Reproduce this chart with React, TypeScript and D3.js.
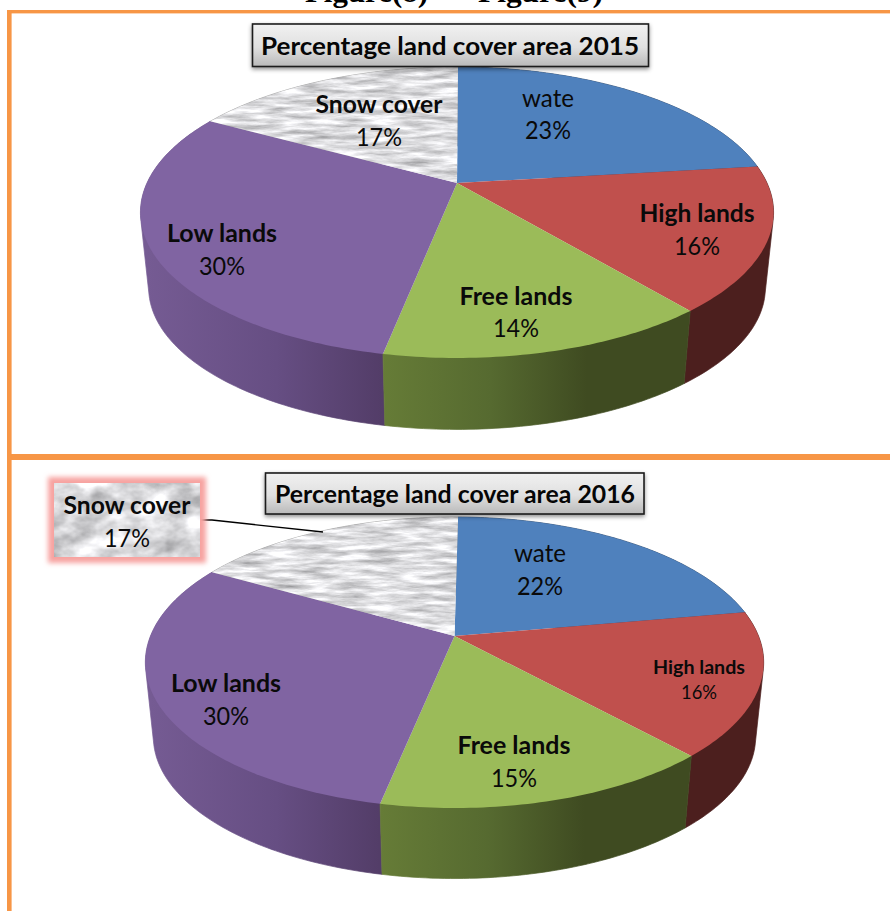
import React from "react";
import * as d3 from "d3";

// Land cover shares per category, in percent
const categories = ["wate", "High lands", "Free lands", "Low lands", "Snow cover"];
const values2015 = [23, 16, 14, 30, 17];
const values2016 = [22, 16, 15, 30, 17];
const titles = ["Percentage land cover area 2015", "Percentage land cover area 2016"];
const headings = ["Figure(8)", "Figure(9)"];

const topColors = ["#4f81bd", "#c0504d", "#9bbb59", "#8064a2", "url(#marble)"];
const boldLabel = [false, true, true, true, true];

type Geometry = {
  cx: number; apexY: number; rx: number; ry: number; tilt: number;
  baseScale: number; baseY: number; firstSlice: number;
};

// Tilted disc: a unit circle under a perspective map, so the apex sits above the rim's centre
const geometry2015: Geometry = { cx: 457, apexY: 183, rx: 310, ry: 139.5, tilt: -0.2027, baseScale: 0.974, baseY: 259, firstSlice: 0.004 };
const geometry2016: Geometry = { cx: 454.5, apexY: 636, rx: 304, ry: 140.7, tilt: -0.182, baseScale: 0.974, baseY: 711, firstSlice: 0.014 };

// Text placement: [centre x, name baseline, percent baseline, name width, percent width]
const labelLayout2015 = [
  [548, 107, 139, 52, 46],
  [697, 222, 255, 115, 46],
  [516, 305, 337, 113, 46],
  [222, 242, 275, 110, 46],
  [379, 113, 146, 127, 46],
];
const labelLayout2016 = [
  [540, 562, 595, 52, 46],
  [699, 674, 699, 92, 36],
  [514, 754, 787, 113, 46],
  [226, 692, 725, 110, 46],
  [127, 514, 547, 127, 46],
];

const FONT = "Lato, Carlito, Calibri, sans-serif";

function rimPoint(g: Geometry, theta: number, base: boolean): [number, number] {
  const u = Math.sin(theta);
  const v = -Math.cos(theta);
  const w = 1 + g.tilt * v;
  const s = base ? g.baseScale : 1;
  const y0 = base ? g.baseY : g.apexY;
  return [g.cx + (s * g.rx * u) / w, y0 + (s * g.ry * v) / w];
}

function rimSamples(g: Geometry, a0: number, a1: number, base: boolean) {
  const n = Math.max(2, Math.ceil(((a1 - a0) * 180) / Math.PI));
  return d3.range(n + 1).map((i) => rimPoint(g, a0 + ((a1 - a0) * i) / n, base));
}

const pathLine = d3.line<[number, number]>().curve(d3.curveLinear);

function Pie3D({ id, g, values, layout }: {
  id: string; g: Geometry; values: number[]; layout: number[][];
}) {
  const arcs = d3.pie<number>().sort(null).value((d) => d)
    .startAngle(g.firstSlice).endAngle(g.firstSlice + 2 * Math.PI)(values);
  const shadeFor = ["#2c4a70", "#4c1f1e", `url(#wall-green-${id})`, `url(#wall-purple-${id})`, "#9a9a9a"];
  const left = g.cx - g.rx;
  // Walls are painted back to front so the nearer slices overlap their neighbours
  const wallOrder = [4, 0, 1, 3, 2];
  return (
    <g>
      <defs>
        <linearGradient id={`wall-green-${id}`} gradientUnits="userSpaceOnUse" x1={g.cx - 75} x2={g.cx + 235} y1="0" y2="0">
          <stop offset="0" stopColor="#667c37" />
          <stop offset="0.35" stopColor="#566a30" />
          <stop offset="0.66" stopColor="#3f4b21" />
          <stop offset="1" stopColor="#3f4b21" />
        </linearGradient>
        <linearGradient id={`wall-purple-${id}`} gradientUnits="userSpaceOnUse" x1={left} x2={g.cx - 75} y1="0" y2="0">
          <stop offset="0" stopColor="#755b93" />
          <stop offset="0.55" stopColor="#664e83" />
          <stop offset="1" stopColor="#533d68" />
        </linearGradient>
      </defs>
      {wallOrder.map((i) => {
        const a = arcs[i];
        const pts = [...rimSamples(g, a.startAngle, a.endAngle, false), ...rimSamples(g, a.startAngle, a.endAngle, true)];
        const hull = d3.polygonHull(pts) as [number, number][];
        return <path key={`w${i}`} d={`${pathLine(hull)}Z`} fill={shadeFor[i]} stroke={shadeFor[i]} strokeWidth={0.7} />;
      })}
      {arcs.map((a, i) => {
        const pts = rimSamples(g, a.startAngle, a.endAngle, false);
        const apex: [number, number] = [g.cx, g.apexY];
        return <path key={`t${i}`} d={`${pathLine([apex, ...pts])}Z`} fill={topColors[i]} />;
      })}
      {arcs.map((_, i) => {
        if (id === "b" && i === 4) return null;
        return <PieLabel key={`l${i}`} index={i} values={values} row={layout[i]} />;
      })}
    </g>
  );
}

function PieLabel({ index, values, row }: { index: number; values: number[]; row: number[] }) {
  const [x, yName, yPct, wName, wPct] = row;
  const size = wPct < 40 ? 19 : 25;
  return (
    <g fontFamily={FONT} fill="#0a0a0a" textAnchor="middle">
      <text x={x} y={yName} fontSize={size} fontWeight={boldLabel[index] ? 700 : 400}
        textLength={wName} lengthAdjust="spacingAndGlyphs">{categories[index]}</text>
      <text x={x} y={yPct} fontSize={size} fontWeight={400}
        textLength={wPct} lengthAdjust="spacingAndGlyphs">{`${values[index]}%`}</text>
    </g>
  );
}

function TitleBox({ x, y, w, h, textX, textW, baseline, size, text }: {
  x: number; y: number; w: number; h: number; textX: number; textW: number;
  baseline: number; size: number; text: string;
}) {
  return (
    <g>
      <rect x={x} y={y} width={w} height={h} fill="url(#titleFill)" stroke="#1c1c1c" strokeWidth={1.6} filter="url(#softShadow)" />
      <text x={textX} y={baseline} fontFamily={FONT} fontWeight={700} fontSize={size} fill="#060606" textAnchor="middle"
        textLength={textW} lengthAdjust="spacingAndGlyphs">{text}</text>
    </g>
  );
}

export default function App() {
  const frame = "#f79646";
  return (
    <svg width={890} height={911} viewBox="0 0 890 911"
      style={{ position: "absolute", left: 0, top: 0, display: "block", background: "#fff" }}>
      <defs>
        {/* Grey veined stone used for the snow slice */}
        <filter id="marbleNoise" x="0" y="0" width="100%" height="100%" colorInterpolationFilters="sRGB">
          <feTurbulence type="fractalNoise" baseFrequency="0.03 0.2" numOctaves={5} seed={7} />
          <feColorMatrix type="matrix" values="0.6 0 0 0 0.57  0.6 0 0 0 0.57  0.6 0 0 0 0.58  0 0 0 0 1" />
        </filter>
        <filter id="calloutNoise" x="0" y="0" width="100%" height="100%" colorInterpolationFilters="sRGB">
          <feTurbulence type="fractalNoise" baseFrequency="0.03 0.045" numOctaves={4} seed={11} />
          <feColorMatrix type="matrix" values="0.7 0 0 0 0.5  0.7 0 0 0 0.5  0.7 0 0 0 0.51  0 0 0 0 1" />
        </filter>
        <pattern id="marble" patternUnits="userSpaceOnUse" x="0" y="0" width="890" height="911">
          <rect width="890" height="911" filter="url(#marbleNoise)" />
        </pattern>
        <linearGradient id="titleFill" x1="0" x2="0" y1="0" y2="1">
          <stop offset="0" stopColor="#f1f1f1" />
          <stop offset="0.55" stopColor="#e0e0e0" />
          <stop offset="1" stopColor="#b9b9b9" />
        </linearGradient>
        <filter id="softShadow" x="-5%" y="-20%" width="110%" height="150%">
          <feDropShadow dx="0" dy="2" stdDeviation="2" floodColor="#000" floodOpacity="0.45" />
        </filter>
        <filter id="pinkGlow" x="-20%" y="-30%" width="140%" height="160%">
          <feGaussianBlur stdDeviation="2.6" />
        </filter>
      </defs>

      {headings.map((h, i) => (
        <text key={h} x={[366.5, 540.5][i]} y={2} fontFamily="'Liberation Serif', 'Times New Roman', serif"
          fontWeight={700} fontSize={30} textAnchor="middle" fill="#000"
          textLength={[123, 125][i]} lengthAdjust="spacingAndGlyphs">{h}</text>
      ))}

      <Pie3D id="a" g={geometry2015} values={values2015} layout={labelLayout2015} />
      <Pie3D id="b" g={geometry2016} values={values2016} layout={labelLayout2016} />

      {/* Panel rules */}
      <rect x={7} y={10} width={883} height={3.4} fill={frame} />
      <rect x={7} y={454} width={883} height={6} fill={frame} />
      <rect x={7} y={10} width={4.6} height={901} fill={frame} />

      <TitleBox x={252.5} y={24} w={396} h={42.5} textX={450} textW={378} baseline={55} size={25} text={titles[0]} />
      <TitleBox x={265.5} y={473} w={378.5} h={41} textX={455} textW={360} baseline={503} size={24} text={titles[1]} />

      {/* Leader and detached label of the snow slice */}
      <polyline points="200,520 212,520 323,532" fill="none" stroke="#000" strokeWidth={1.3} />
      <rect x={48} y={477} width={158} height={86} fill="#f7a3a0" filter="url(#pinkGlow)" />
      <rect x={54} y={483} width={146} height={74} filter="url(#calloutNoise)" />
      <PieLabel index={4} values={values2016} row={labelLayout2016[4]} />
    </svg>
  );
}
